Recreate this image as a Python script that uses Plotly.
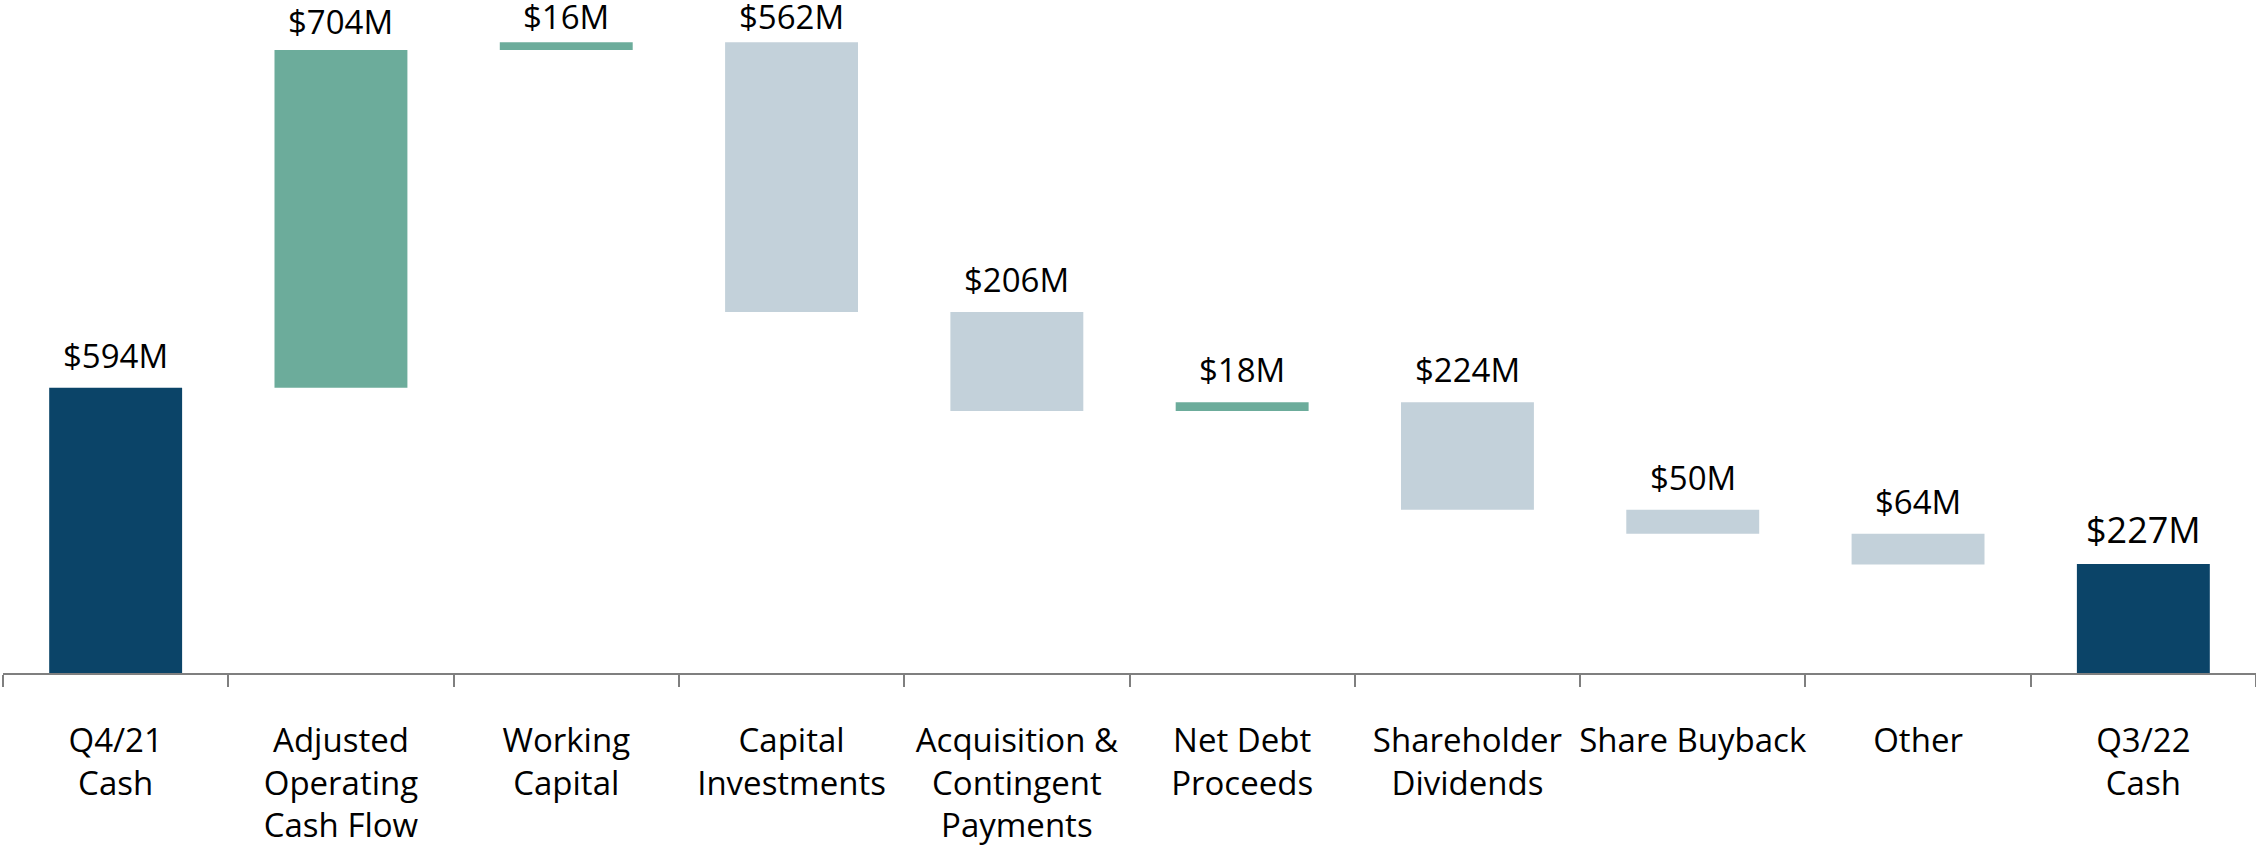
import plotly.graph_objects as go

categories = ["Q4/21<br>Cash", "Adjusted<br>Operating<br>Cash Flow", "Working<br>Capital",
              "Capital<br>Investments", "Acquisition &<br>Contingent<br>Payments",
              "Net Debt<br>Proceeds", "Shareholder<br>Dividends", "Share Buyback",
              "Other", "Q3/22<br>Cash"]
values = [594, 704, 16, -562, -206, 18, -224, -50, -64, 227]
measures = ["absolute", "relative", "relative", "relative", "relative",
            "relative", "relative", "relative", "relative", "absolute"]
labels = ["$594M", "$704M", "$16M", "$562M", "$206M", "$18M", "$224M", "$50M", "$64M", "$227M"]

DARK = "#0b4468"
GREEN = "#6cac9b"
LIGHT = "#c3d1da"
FONT = "Open Sans"
Y_MAX = 1402
PLOT_H = 846 - 173

fig = go.Figure(go.Waterfall(
    x=categories, y=values, measure=measures,
    width=0.59,
    increasing=dict(marker=dict(color=GREEN)),
    decreasing=dict(marker=dict(color=LIGHT)),
    totals=dict(marker=dict(color=DARK)),
    connector=dict(visible=False),
    hoverinfo="skip",
))

# label positions: top of each floating bar
running = 0
for i, (c, v, m, lab) in enumerate(zip(categories, values, measures, labels)):
    if m == "absolute":
        start, end = 0, v
        running = v
    else:
        start, end = running, running + v
        running = end
    top = max(start, end)
    big = (i == len(categories) - 1)
    px_from_top = PLOT_H * (1 - top / Y_MAX)
    shift = min(9, max(2, px_from_top - 45))
    fig.add_annotation(x=c, y=top, text=lab, showarrow=False, yanchor="bottom",
                       yshift=shift, borderpad=0,
                       font=dict(family=FONT, size=36 if big else 33, color="#000000"))

fig.update_layout(
    width=2256, height=846,
    margin=dict(l=3, r=0, t=0, b=173, autoexpand=False),
    paper_bgcolor="white", plot_bgcolor="white",
    showlegend=False,
    font=dict(family=FONT, size=33, color="#000000"),
)
fig.update_xaxes(type="category", showline=True, linecolor="#7f7f7f", linewidth=2,
                 ticks="outside", tickson="boundaries", ticklen=12, tickwidth=2,
                 tickcolor="#7f7f7f", showgrid=False, ticklabelstandoff=37,
                 tickangle=0, automargin=False,
                 tickfont=dict(family=FONT, size=33, color="#000000"))
fig.update_yaxes(visible=False, range=[0, Y_MAX], showgrid=False, zeroline=False)

fig.write_html("out.html", config={"displayModeBar": False},
               post_script="document.body.style.margin='0';")
